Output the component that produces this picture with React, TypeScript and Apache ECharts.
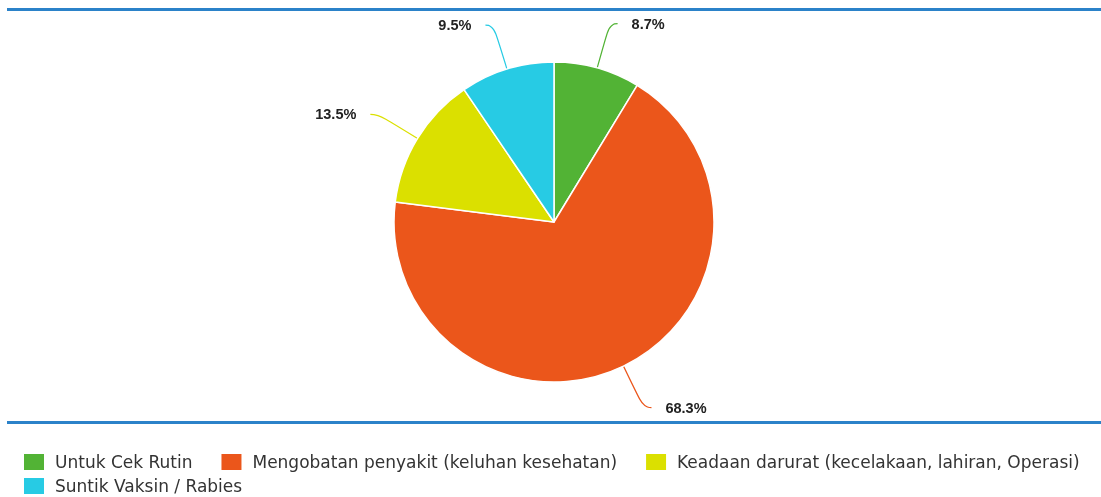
import React, { useEffect, useRef } from "react";
import * as echarts from "echarts";

const categories = [
  "Untuk Cek Rutin",
  "Mengobatan penyakit (keluhan kesehatan)",
  "Keadaan darurat (kecelakaan, lahiran, Operasi)",
  "Suntik Vaksin / Rabies",
];
const values = [8.7, 68.3, 13.5, 9.5];
const colors = ["#52b335", "#eb561b", "#dbe000", "#27cbe4"];

export default function App() {
  const ref = useRef<HTMLDivElement>(null);
  useEffect(() => {
    if (!ref.current) return;
    const chart = echarts.init(ref.current, undefined, { renderer: "svg" });
    const legendText = {
      fontFamily: "DejaVu Sans",
      fontSize: 17,
      color: "#333",
      padding: [0, 0, 0, 5],
    };
    const legendBase = {
      left: 22,
      padding: 0,
      itemWidth: 22,
      itemHeight: 18,
      itemGap: 27,
      icon: "rect",
      textStyle: legendText,
    };
    chart.setOption({
      animation: false,
      color: colors,
      graphic: [
        { type: "rect", shape: { x: 7, y: 8, width: 1094, height: 3 }, style: { fill: "#2b82c9" } },
        { type: "rect", shape: { x: 7, y: 421, width: 1094, height: 3 }, style: { fill: "#2b82c9" } },
      ],
      legend: [
        { ...legendBase, data: categories.slice(0, 3), top: 452 },
        { ...legendBase, data: categories.slice(3), top: 476 },
      ],
      series: [
        {
          type: "pie",
          center: [554, 222],
          radius: [0, 160],
          startAngle: 90,
          clockwise: true,
          data: categories.map((name, i) => ({ name, value: values[i] })),
          itemStyle: { borderColor: "#fff", borderWidth: 1.5 },
          label: {
            show: true,
            formatter: (p: any) => p.value.toFixed(1) + "%",
            fontFamily: "Liberation Sans",
            fontWeight: "bold",
            fontSize: 14.5,
            color: "#222",
            distanceToLabelLine: 14,
          },
          labelLine: {
            show: true,
            length: 46,
            length2: 8,
            smooth: 0.6,
            lineStyle: { width: 1.2 },
          },
          emphasis: { disabled: true },
        },
      ],
    });
    return () => chart.dispose();
  }, []);
  return (
    <div
      ref={ref}
      style={{ position: "fixed", left: 0, top: 0, width: 1101, height: 497 }}
    />
  );
}
